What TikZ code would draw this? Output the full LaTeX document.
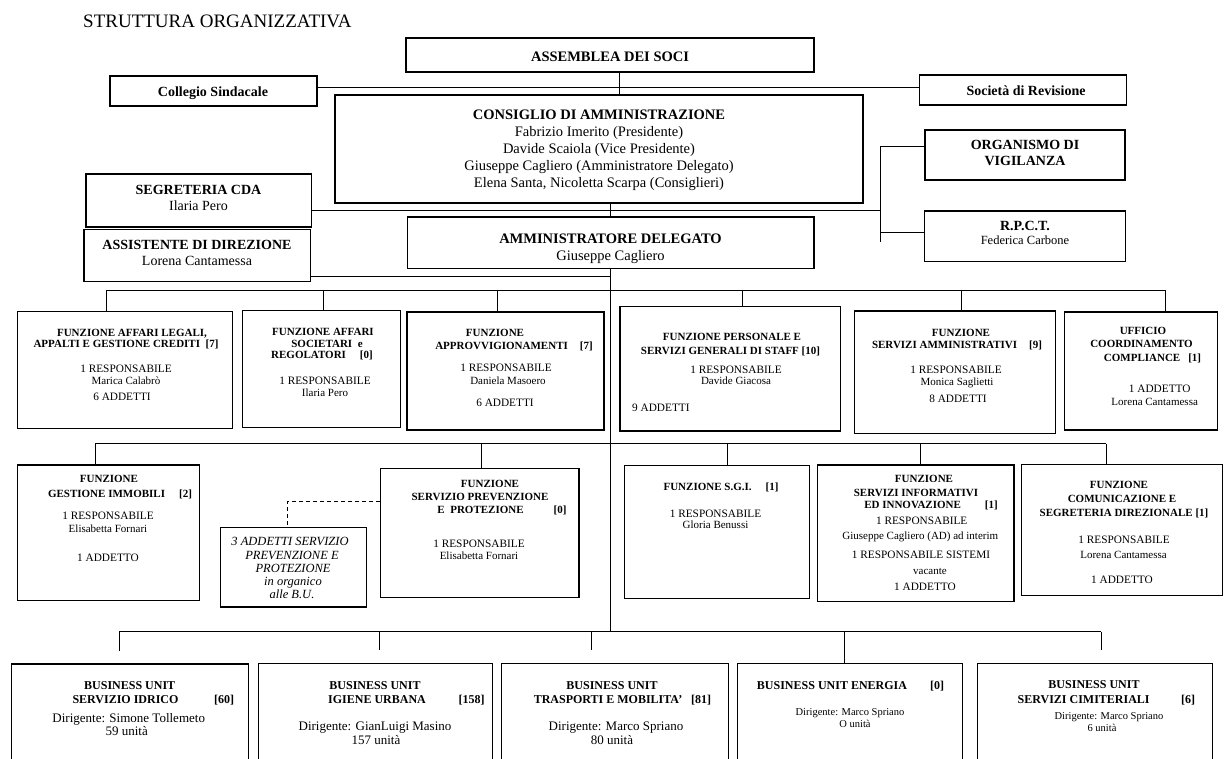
\documentclass[tikz,border=0pt]{standalone}
\usepackage{fontspec}
\setmainfont{Liberation Serif}
\usetikzlibrary{calc}
\newcounter{tc}
\newcommand{\tx}[3]{\stepcounter{tc}\edef\tn{t\arabic{tc}}\node[#1] (\tn) at (#2) {#3};}
\newcommand{\mkbox}[5]{\pgfmathsetmacro\bw{#4-#2}\pgfmathsetmacro\bh{#5-#3}\pgfmathsetmacro\bcx{(#2+#4)/2}\pgfmathsetmacro\bcy{(#3+#5)/2}\node[bx,minimum width=\bw pt,minimum height=\bh pt] (#1) at (\bcx,\bcy) {};}
\begin{document}
\begin{tikzpicture}[x=1pt,y=-1pt,
  bx/.style={draw,line width=1.1pt,inner sep=0pt,outer sep=0pt},
  cn/.style={line width=0.9pt},
  tbase/.style={inner sep=0pt,anchor=base},
  ttl/.style={tbase,font=\fontsize{19}{21}\selectfont,yshift=-6.4pt},
  tb/.style={tbase,font=\fontsize{14.5}{16}\selectfont\bfseries,yshift=-4.9pt},
  tr/.style={tbase,font=\fontsize{14.5}{16}\selectfont,yshift=-4.9pt},
  tbs/.style={tbase,font=\fontsize{14}{16}\selectfont\bfseries,yshift=-4.7pt},
  trs/.style={tbase,font=\fontsize{14}{16}\selectfont,yshift=-4.7pt},
  trr/.style={tbase,font=\fontsize{12.5}{14}\selectfont,yshift=-4.2pt},
  hb/.style={tbase,font=\fontsize{11}{12}\selectfont\bfseries,yshift=-3.7pt},
  nr/.style={tbase,font=\fontsize{11.3}{12}\selectfont,yshift=-3.8pt},
  nm/.style={tbase,font=\fontsize{11}{12}\selectfont,yshift=-3.6pt},
  itx/.style={tbase,font=\fontsize{12.5}{14}\selectfont\itshape,yshift=-4.2pt},
  ub/.style={tbase,font=\fontsize{12}{13}\selectfont\bfseries,yshift=-4pt},
  ur/.style={tbase,font=\fontsize{13}{14}\selectfont,yshift=-4.3pt},
  us/.style={tbase,font=\fontsize{10.5}{12}\selectfont,yshift=-3.5pt},
]
\useasboundingbox (0,0) rectangle (1224,758);
\clip (0,0) rectangle (1224,758);
\fill[white] (0,0) rectangle (1224,758);

% title
\tx{ttl,anchor=base west}{83,20.8}{STRUTTURA ORGANIZZATIVA}

% ---------- top level ----------
\mkbox{asm}{406}{38}{814}{72}
\tx{tb}{610,57}{ASSEMBLEA DEI SOCI}
\mkbox{col}{110}{76}{317}{106}
\tx{tbs}{213,92}{Collegio Sindacale}
\mkbox{soc}{919.5}{75}{1126.5}{105}
\tx{tbs}{1026,91}{Società di Revisione}
\mkbox{cda}{335}{95}{863}{203}
\tx{tb}{599,114.3}{CONSIGLIO DI AMMINISTRAZIONE}
\tx{tr}{599,131.7}{Fabrizio Imerito (Presidente)}
\tx{tr}{599,148.3}{Davide Scaiola (Vice Presidente)}
\tx{tr}{599,165.7}{Giuseppe Cagliero (Amministratore Delegato)}
\tx{tr}{599,182.3}{Elena Santa, Nicoletta Scarpa (Consiglieri)}
\mkbox{odv}{925}{130}{1125}{180}
\tx{tbs}{1025,144.3}{ORGANISMO DI}
\tx{tbs}{1025,160.7}{VIGILANZA}
\mkbox{seg}{86}{174}{311.5}{227}
\tx{tbs}{198.5,189.3}{SEGRETERIA CDA}
\tx{trs}{198.5,205.7}{Ilaria Pero}
\mkbox{ad}{407.5}{217}{814}{268.3}
\tx{tb}{610.5,238.3}{AMMINISTRATORE DELEGATO}
\tx{tr}{610.5,255.7}{Giuseppe Cagliero}
\mkbox{rpct}{924.3}{211}{1125.3}{261.7}
\tx{tbs}{1025,225.7}{R.P.C.T.}
\tx{trr}{1025,240.7}{Federica Carbone}
\mkbox{ass}{84}{229.3}{310.3}{281.7}
\tx{tbs}{197,244.3}{ASSISTENTE DI DIREZIONE}
\tx{trs}{197,260.3}{Lorena Cantamessa}

% ---------- first row ----------
\mkbox{b1}{17.8}{311.7}{232.4}{428.3}
\tx{hb}{132,332.3}{FUNZIONE AFFARI LEGALI,}
\tx{hb}{126,344}{APPALTI E GESTIONE CREDITI~~[7]}
\tx{nr}{126,368.7}{1 RESPONSABILE}
\tx{nm}{126,380.5}{Marica Calabrò}
\tx{nr}{122,397}{6 ADDETTI}

\mkbox{b2}{242.3}{310.7}{400.4}{427.7}
\tx{hb}{323,331.7}{FUNZIONE AFFARI}
\tx{hb}{327,343.3}{SOCIETARI~~e}
\tx{hb}{322,354.5}{REGOLATORI\hspace{14pt}[0]}
\tx{nr}{325,380.7}{1 RESPONSABILE}
\tx{nm}{325,392.5}{Ilaria Pero}

\mkbox{b3}{407}{312}{604}{430}
\tx{hb}{495,332.3}{FUNZIONE}
\tx{hb}{514,345.7}{APPROVVIGIONAMENTI\hspace{12pt}[7]}
\tx{nr}{506,367.3}{1 RESPONSABILE}
\tx{nm}{508,381.3}{Daniela Masoero}
\tx{nr}{505,403}{6 ADDETTI}

\mkbox{b4}{620}{306.7}{840.7}{431}
\tx{hb}{732,337}{FUNZIONE PERSONALE E}
\tx{hb}{730.5,351}{SERVIZI GENERALI DI STAFF [10]}
\tx{nr}{736,369.3}{1 RESPONSABILE}
\tx{nm}{736,381}{Davide Giacosa}
\tx{nr,anchor=base west}{632,407.7}{9 ADDETTI}

\mkbox{b5}{854.7}{311}{1055.6}{433.3}
\tx{hb}{961,332.7}{FUNZIONE}
\tx{hb}{957,344.3}{SERVIZI AMMINISTRATIVI\hspace{12pt}[9]}
\tx{nr}{956,370}{1 RESPONSABILE}
\tx{nm}{957,381.5}{Monica Saglietti}
\tx{nr}{958,398.3}{8 ADDETTI}

\mkbox{b6}{1064.4}{312}{1217.7}{430}
\tx{hb}{1143,331}{UFFICIO}
\tx{hb}{1141.5,344}{COORDINAMENTO}
\tx{hb}{1152.5,357.3}{COMPLIANCE\hspace{8pt}[1]}
\tx{nr}{1159.7,388.3}{1 ADDETTO}
\tx{nm}{1154.7,401.7}{Lorena Cantamessa}

% ---------- second row ----------
\mkbox{gi}{17.8}{465}{199.6}{600.7}
\tx{hb}{109,478.3}{FUNZIONE}
\tx{hb}{120,493.3}{GESTIONE IMMOBILI\hspace{14pt}[2]}
\tx{nr}{108,516}{1 RESPONSABILE}
\tx{nm}{108,529.3}{Elisabetta Fornari}
\tx{nr}{108,557.7}{1 ADDETTO}

\mkbox{ad3}{220.2}{527.3}{366.8}{607}
\tx{itx}{290,541.7}{3 ADDETTI SERVIZIO}
\tx{itx}{292,555}{PREVENZIONE E}
\tx{itx}{293,568.3}{PROTEZIONE}
\tx{itx}{293,581.7}{in organico}
\tx{itx}{292,594}{alle B.U.}

\mkbox{spp}{380.2}{468.3}{579}{597.7}
\tx{hb}{490,484}{FUNZIONE}
\tx{hb}{480,496.7}{SERVIZIO PREVENZIONE}
\tx{hb}{502,510}{E~~PROTEZIONE\hspace{30pt}[0]}
\tx{nr}{479,543.3}{1 RESPONSABILE}
\tx{nm}{479,556}{Elisabetta Fornari}

\mkbox{sgi}{624.7}{465.7}{809.7}{598.3}
\tx{hb}{721,486.7}{FUNZIONE S.G.I.\hspace{14pt}[1]}
\tx{nr}{715.5,513.3}{1 RESPONSABILE}
\tx{nm}{715.5,525}{Gloria Benussi}

\mkbox{sii}{817.5}{465}{1014}{601.7}
\tx{hb}{924,479}{FUNZIONE}
\tx{hb}{916,492.3}{SERVIZI INFORMATIVI}
\tx{hb}{931,505}{ED INNOVAZIONE\hspace{24pt}[1]}
\tx{nr}{921.7,520.5}{1 RESPONSABILE}
\tx{nm}{920.3,535.5}{Giuseppe Cagliero (AD) ad interim}
\tx{nr}{921,555}{1 RESPONSABILE SISTEMI}
\tx{nm}{930,570.5}{vacante}
\tx{nr}{925,586.7}{1 ADDETTO}

\mkbox{csd}{1021.8}{464.2}{1222.5}{595.7}
\tx{hb}{1119,485}{FUNZIONE}
\tx{hb}{1122,499}{COMUNICAZIONE E}
\tx{hb}{1124,512.7}{SEGRETERIA DIREZIONALE [1]}
\tx{nr}{1124,539.3}{1 RESPONSABILE}
\tx{nm}{1123.5,555}{Lorena Cantamessa}
\tx{nr}{1122,580}{1 ADDETTO}

% ---------- business units ----------
\mkbox{bu1}{11.7}{664}{248.3}{775}
\tx{ub}{129.7,685}{BUSINESS UNIT}
\tx{ub}{125.5,699}{SERVIZIO IDRICO}
\tx{ub}{224,699}{[60]}
\tx{ur}{128.7,718.3}{Dirigente: Simone Tollemeto}
\tx{ur}{126.7,731}{59 unità}

\mkbox{bu2}{258.3}{663.5}{492.7}{775}
\tx{ub}{375,685}{BUSINESS UNIT}
\tx{ub}{377,699}{IGIENE URBANA}
\tx{ub}{471.7,699}{[158]}
\tx{ur}{375,726}{Dirigente: GianLuigi Masino}
\tx{ur}{376,740}{157 unità}

\mkbox{bu3}{501.2}{663.5}{728.1}{775}
\tx{ub}{612,685}{BUSINESS UNIT}
\tx{ub}{608,699}{TRASPORTI E MOBILITA’}
\tx{ub}{701,699}{[81]}
\tx{ur}{616,726}{Dirigente: Marco Spriano}
\tx{ur}{612,740}{80 unità}

\mkbox{bu4}{737.3}{663.5}{962.2}{775}
\tx{ub}{832,685}{BUSINESS UNIT ENERGIA}
\tx{ub}{937,685}{[0]}
\tx{us}{850,712}{Dirigente: Marco Spriano}
\tx{us}{855,724}{O unità}

\mkbox{bu5}{977.3}{663.5}{1212.3}{775}
\tx{ub}{1094,684}{BUSINESS UNIT}
\tx{ub}{1083.7,699}{SERVIZI CIMITERIALI}
\tx{ub}{1188,699}{[6]}
\tx{us}{1109,716}{Dirigente: Marco Spriano}
\tx{us}{1102,727.5}{6 unità}

% ---------- connectors ----------
\coordinate (va) at (619,87.5);
\draw[cn] (asm.south -| va) -- (cda.north -| va);
\draw[cn] (col.east |- va) -- (soc.west |- va);
\coordinate (vm) at (610,210.5);
\draw[cn] (cda.south -| vm) -- (ad.north -| vm);
\coordinate (jr) at (880,210.5);
\draw[cn] (seg.east |- vm) -- (jr);
\coordinate (jo) at (880,146.7);
\coordinate (jp) at (880,232.3);
\coordinate (je) at (880,241.7);
\draw[cn] (jo) -- (je);
\draw[cn] (jo) -- (odv.west |- jo);
\draw[cn] (jp) -- (rpct.west |- jp);
\coordinate (ja) at (610,276.7);
\draw[cn] (ass.east |- ja) -- (ja);
\coordinate (vb) at (610,631.7);
\draw[cn] (ad.south -| vm) -- (vb);

% bus 1
\coordinate (k1) at (106.7,290);
\coordinate (k2) at (323.3,290);
\coordinate (k3) at (497.2,290);
\coordinate (k4) at (742,290);
\coordinate (k5) at (961.3,290);
\coordinate (k6) at (1165,290);
\draw[cn] (k1) -- (k6);
\draw[cn] (k1) -- (b1.north -| k1);
\draw[cn] (k2) -- (b2.north -| k2);
\draw[cn] (k3) -- (b3.north -| k3);
\draw[cn] (k4) -- (b4.north -| k4);
\draw[cn] (k5) -- (b5.north -| k5);
\draw[cn] (k6) -- (b6.north -| k6);

% bus 2
\coordinate (m1) at (95,443.5);
\coordinate (m2) at (481,443.5);
\coordinate (m3) at (727.3,443.5);
\coordinate (m4) at (920,443.5);
\coordinate (m5) at (1106,443.5);
\draw[cn] (m1) -- (m5);
\draw[cn] (m1) -- (gi.north -| m1);
\draw[cn] (m2) -- (spp.north -| m2);
\draw[cn] (m3) -- (sgi.north -| m3);
\draw[cn] (m4) -- (sii.north -| m4);
\draw[cn] (m5) -- (csd.north -| m5);

% dashed link
\coordinate (d1) at (287.4,501.7);
\draw[cn,dash pattern=on 4pt off 3pt] (spp.west |- d1) -- (d1) -- (ad3.north -| d1);

% bus 3
\coordinate (u1) at (119.4,631.7);
\coordinate (u2) at (379.4,631.7);
\coordinate (u3) at (591,631.7);
\coordinate (u4) at (844,631.7);
\coordinate (u5) at (1101,631.7);
\coordinate (e1) at (119.4,650.5);
\coordinate (e2) at (379.4,649.5);
\coordinate (e3) at (591,649.5);
\coordinate (e5) at (1101,649.5);
\draw[cn] (u1) -- (u5);
\draw[cn] (u1) -- (e1);
\draw[cn] (u2) -- (e2);
\draw[cn] (u3) -- (e3);
\draw[cn] (u4) -- (bu4.north -| u4);
\draw[cn] (u5) -- (e5);
\end{tikzpicture}
\end{document}
